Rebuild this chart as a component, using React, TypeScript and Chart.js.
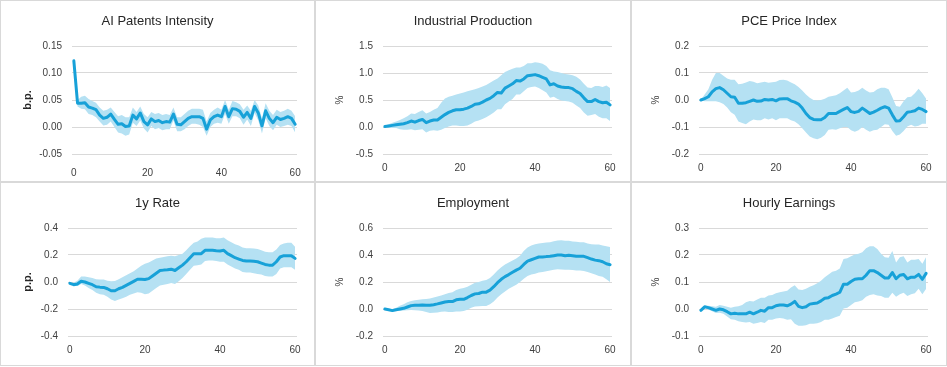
import React, { useEffect, useRef } from "react";
import { Chart, registerables } from "chart.js";
Chart.register(...registerables);

const horizons = Array.from({ length: 61 }, (_, i) => String(i));
const xTickLabels = ["0", "20", "40", "60"];

const aiLine = [0.1225,0.044,0.044,0.045,0.037,0.035,0.032,0.022,0.016,0.018,0.024,0.014,0.005,0.006,0.001,0.002,0.022,0.015,0.026,0.010,0.004,0.015,0.010,0.012,0.008,0.010,0.009,0.024,0.005,0.004,0.010,0.016,0.019,0.019,0.019,0.016,-0.004,0.013,0.019,0.022,0.019,0.038,0.019,0.034,0.033,0.029,0.018,0.027,0.016,0.038,0.026,0.002,0.030,0.016,0.008,0.018,0.014,0.016,0.019,0.016,0.005];
const aiUpper = [0.123,0.050,0.056,0.058,0.052,0.048,0.045,0.036,0.030,0.032,0.036,0.028,0.020,0.022,0.018,0.018,0.036,0.028,0.038,0.024,0.018,0.028,0.024,0.026,0.022,0.024,0.022,0.036,0.018,0.018,0.024,0.030,0.034,0.034,0.034,0.032,0.010,0.026,0.032,0.036,0.032,0.050,0.032,0.048,0.046,0.042,0.032,0.040,0.030,0.050,0.040,0.016,0.044,0.030,0.022,0.032,0.028,0.030,0.034,0.030,0.020];
const aiLower = [0.122,0.038,0.034,0.033,0.024,0.022,0.018,0.010,0.003,0.004,0.010,0.000,-0.010,-0.012,-0.016,-0.014,0.008,0.002,0.012,-0.003,-0.010,0.002,-0.004,-0.002,-0.006,-0.004,-0.004,0.012,-0.008,-0.008,-0.004,0.002,0.006,0.006,0.004,0.000,-0.016,0.000,0.006,0.008,0.006,0.024,0.006,0.020,0.020,0.016,0.004,0.014,0.002,0.026,0.012,-0.012,0.016,0.002,-0.006,0.004,0.000,0.002,0.004,0.002,-0.010];

const ipLine = [0.01,0.02,0.03,0.04,0.05,0.06,0.08,0.11,0.09,0.12,0.14,0.08,0.11,0.13,0.13,0.18,0.23,0.27,0.30,0.32,0.32,0.33,0.35,0.38,0.42,0.43,0.46,0.50,0.53,0.58,0.64,0.63,0.72,0.76,0.80,0.86,0.85,0.89,0.95,0.96,0.97,0.95,0.92,0.89,0.78,0.80,0.76,0.74,0.73,0.73,0.71,0.66,0.62,0.54,0.47,0.47,0.51,0.47,0.45,0.46,0.41];
const ipUpper = [0.02,0.05,0.08,0.10,0.13,0.16,0.20,0.25,0.24,0.28,0.31,0.25,0.28,0.32,0.35,0.45,0.53,0.56,0.58,0.60,0.62,0.64,0.66,0.68,0.70,0.72,0.75,0.78,0.82,0.86,0.90,0.96,1.02,1.05,1.08,1.10,1.10,1.13,1.18,1.18,1.20,1.19,1.17,1.13,1.05,1.03,1.02,1.00,0.98,0.97,0.96,0.93,0.88,0.80,0.73,0.72,0.76,0.76,0.74,0.77,0.72];
const ipLower = [0.00,-0.01,-0.02,-0.02,-0.04,-0.05,-0.05,-0.04,-0.06,-0.05,-0.04,-0.10,-0.07,-0.06,-0.07,-0.05,-0.02,0.01,0.03,0.03,0.02,0.02,0.03,0.06,0.10,0.12,0.15,0.18,0.22,0.27,0.33,0.33,0.42,0.47,0.52,0.60,0.60,0.66,0.72,0.74,0.75,0.72,0.68,0.64,0.54,0.56,0.52,0.49,0.48,0.47,0.45,0.40,0.35,0.27,0.21,0.22,0.24,0.19,0.16,0.16,0.11];

const pceLine = [0.000,0.005,0.012,0.030,0.042,0.046,0.038,0.025,0.012,0.010,-0.012,-0.012,-0.010,-0.005,0.000,-0.005,-0.004,0.002,0.000,0.002,-0.003,0.004,0.005,0.005,-0.003,-0.008,-0.015,-0.030,-0.050,-0.065,-0.072,-0.073,-0.073,-0.065,-0.050,-0.050,-0.050,-0.042,-0.035,-0.028,-0.043,-0.046,-0.042,-0.030,-0.040,-0.050,-0.045,-0.038,-0.030,-0.025,-0.030,-0.055,-0.078,-0.077,-0.062,-0.045,-0.043,-0.040,-0.030,-0.035,-0.043];
const pceUpper = [0.000,0.020,0.040,0.075,0.100,0.100,0.090,0.080,0.075,0.075,0.058,0.060,0.065,0.070,0.068,0.062,0.065,0.068,0.064,0.066,0.068,0.074,0.075,0.072,0.065,0.058,0.048,0.035,0.020,0.008,0.000,-0.002,0.000,0.005,0.012,0.015,0.018,0.025,0.035,0.045,0.028,0.030,0.035,0.045,0.035,0.028,0.030,0.040,0.045,0.045,0.040,0.010,-0.022,-0.025,-0.005,0.010,0.012,0.025,0.042,0.025,0.005];
const pceLower = [0.000,-0.005,-0.005,-0.005,-0.005,-0.008,-0.015,-0.028,-0.045,-0.055,-0.080,-0.085,-0.090,-0.080,-0.072,-0.075,-0.075,-0.068,-0.072,-0.068,-0.075,-0.068,-0.068,-0.068,-0.075,-0.080,-0.090,-0.105,-0.120,-0.135,-0.142,-0.145,-0.140,-0.130,-0.110,-0.108,-0.110,-0.105,-0.100,-0.100,-0.112,-0.118,-0.112,-0.100,-0.110,-0.118,-0.112,-0.110,-0.100,-0.090,-0.092,-0.115,-0.132,-0.128,-0.115,-0.098,-0.092,-0.098,-0.095,-0.088,-0.088];

const rateLine = [-0.010,-0.020,-0.015,0.005,0.000,-0.010,-0.020,-0.035,-0.038,-0.040,-0.050,-0.065,-0.065,-0.050,-0.040,-0.025,-0.010,0.005,0.020,0.020,0.018,0.025,0.045,0.065,0.085,0.088,0.090,0.095,0.085,0.105,0.125,0.150,0.180,0.210,0.210,0.210,0.235,0.235,0.235,0.232,0.230,0.235,0.210,0.195,0.180,0.170,0.160,0.155,0.155,0.153,0.150,0.140,0.130,0.125,0.125,0.150,0.185,0.195,0.195,0.195,0.175];
const rateUpper = [-0.005,-0.005,0.010,0.040,0.040,0.035,0.030,0.020,0.018,0.018,0.010,0.005,0.008,0.020,0.035,0.050,0.065,0.080,0.100,0.120,0.135,0.145,0.160,0.175,0.180,0.185,0.190,0.195,0.190,0.200,0.210,0.235,0.265,0.290,0.300,0.320,0.330,0.330,0.330,0.325,0.325,0.330,0.310,0.295,0.280,0.270,0.255,0.250,0.250,0.248,0.245,0.235,0.225,0.220,0.220,0.240,0.275,0.285,0.290,0.290,0.260];
const rateLower = [-0.010,-0.025,-0.030,-0.015,-0.025,-0.045,-0.060,-0.080,-0.090,-0.095,-0.110,-0.130,-0.140,-0.130,-0.120,-0.110,-0.095,-0.085,-0.075,-0.080,-0.090,-0.085,-0.065,-0.045,-0.025,-0.020,-0.015,-0.008,-0.015,0.005,0.030,0.060,0.090,0.120,0.125,0.130,0.155,0.160,0.160,0.155,0.150,0.150,0.130,0.115,0.100,0.090,0.075,0.070,0.070,0.065,0.060,0.055,0.045,0.040,0.040,0.060,0.100,0.110,0.110,0.110,0.090];

const empLine = [0.000,-0.005,-0.012,-0.005,0.000,0.005,0.015,0.025,0.028,0.028,0.030,0.028,0.028,0.032,0.038,0.045,0.052,0.055,0.055,0.068,0.072,0.072,0.085,0.100,0.112,0.115,0.125,0.125,0.140,0.165,0.195,0.220,0.240,0.255,0.272,0.288,0.302,0.330,0.355,0.365,0.375,0.385,0.385,0.388,0.390,0.395,0.400,0.400,0.395,0.398,0.395,0.390,0.390,0.390,0.380,0.370,0.362,0.358,0.350,0.335,0.328];
const empUpper = [0.000,0.002,0.000,0.010,0.025,0.035,0.050,0.060,0.065,0.068,0.072,0.075,0.078,0.085,0.092,0.100,0.110,0.118,0.125,0.140,0.150,0.155,0.165,0.180,0.195,0.200,0.210,0.215,0.230,0.255,0.285,0.310,0.330,0.345,0.360,0.375,0.395,0.430,0.455,0.470,0.480,0.485,0.488,0.492,0.495,0.502,0.508,0.510,0.505,0.505,0.500,0.498,0.495,0.495,0.485,0.480,0.478,0.478,0.470,0.465,0.460];
const empLower = [0.000,-0.008,-0.015,-0.015,-0.015,-0.012,-0.010,-0.008,-0.010,-0.012,-0.015,-0.022,-0.030,-0.028,-0.025,-0.020,-0.018,-0.022,-0.022,-0.018,-0.018,-0.015,-0.005,0.010,0.018,0.020,0.022,0.022,0.035,0.055,0.085,0.110,0.130,0.150,0.165,0.180,0.200,0.225,0.245,0.255,0.262,0.270,0.275,0.280,0.285,0.290,0.295,0.292,0.290,0.290,0.288,0.285,0.285,0.282,0.275,0.265,0.255,0.245,0.238,0.220,0.200];

const ahLine = [-0.005,0.008,0.005,0.000,-0.005,0.000,-0.003,-0.010,-0.018,-0.016,-0.018,-0.018,-0.018,-0.012,-0.018,-0.012,-0.005,-0.008,0.005,0.005,0.012,0.015,0.015,0.012,0.018,0.028,0.010,0.005,0.008,0.018,0.020,0.022,0.030,0.040,0.042,0.050,0.055,0.062,0.092,0.092,0.102,0.110,0.112,0.112,0.125,0.142,0.142,0.135,0.125,0.115,0.115,0.135,0.112,0.125,0.128,0.112,0.118,0.118,0.128,0.110,0.132];
const ahUpper = [-0.002,0.012,0.012,0.010,0.008,0.015,0.012,0.008,0.005,0.008,0.010,0.015,0.025,0.030,0.028,0.035,0.042,0.042,0.050,0.052,0.058,0.062,0.065,0.068,0.080,0.088,0.072,0.070,0.075,0.082,0.088,0.095,0.105,0.118,0.128,0.138,0.142,0.150,0.185,0.188,0.195,0.202,0.205,0.210,0.225,0.232,0.232,0.222,0.205,0.192,0.190,0.215,0.172,0.192,0.195,0.172,0.182,0.182,0.185,0.168,0.192];
const ahLower = [-0.006,0.004,-0.002,-0.008,-0.015,-0.014,-0.018,-0.028,-0.038,-0.040,-0.045,-0.048,-0.050,-0.048,-0.055,-0.052,-0.048,-0.052,-0.040,-0.040,-0.035,-0.033,-0.035,-0.040,-0.038,-0.055,-0.062,-0.062,-0.060,-0.055,-0.055,-0.053,-0.048,-0.040,-0.040,-0.035,-0.030,-0.025,0.002,0.005,0.015,0.025,0.028,0.032,0.045,0.052,0.055,0.050,0.048,0.042,0.042,0.060,0.045,0.055,0.060,0.048,0.055,0.058,0.075,0.055,0.075];

const LINE_COLOR = "#17a1d8";
const BAND_COLOR = "#b5e1f3";
const GRID_COLOR = "#d9d9d9";
const TEXT_COLOR = "#404040";
const TITLE_COLOR = "#262626";
const FONT = "'Liberation Sans', Arial, sans-serif";

type Panel = {
  title: string; unit: string; unitBold: boolean;
  min: number; max: number; step: number; dec: number;
  line: number[]; upper: number[]; lower: number[];
  left: number; xPad: number; unitPad: number;
};

const panels: Panel[] = [
  { title: "AI Patents Intensity", unit: "b.p.", unitBold: true, min: -0.05, max: 0.15, step: 0.05, dec: 2, line: aiLine, upper: aiUpper, lower: aiLower, left: 71, xPad: 13, unitPad: 20 },
  { title: "Industrial Production", unit: "%", unitBold: false, min: -0.5, max: 1.5, step: 0.5, dec: 1, line: ipLine, upper: ipUpper, lower: ipLower, left: 67, xPad: 8, unitPad: 18 },
  { title: "PCE Price Index", unit: "%", unitBold: false, min: -0.2, max: 0.2, step: 0.1, dec: 1, line: pceLine, upper: pceUpper, lower: pceLower, left: 67, xPad: 8, unitPad: 18 },
  { title: "1y Rate", unit: "p.p.", unitBold: true, min: -0.4, max: 0.4, step: 0.2, dec: 1, line: rateLine, upper: rateUpper, lower: rateLower, left: 67, xPad: 8, unitPad: 20 },
  { title: "Employment", unit: "%", unitBold: false, min: -0.2, max: 0.6, step: 0.2, dec: 1, line: empLine, upper: empUpper, lower: empLower, left: 67, xPad: 8, unitPad: 18 },
  { title: "Hourly Earnings", unit: "%", unitBold: false, min: -0.1, max: 0.3, step: 0.1, dec: 1, line: ahLine, upper: ahUpper, lower: ahLower, left: 67, xPad: 8, unitPad: 18 },
];

const colLefts = [0, 315, 631];
const colWidths = [315, 316, 316];
const rowTops = [0, 182];
const rowHeights = [182, 184];

function PanelChart({ p, w, h }: { p: Panel; w: number; h: number }) {
  const ref = useRef<HTMLCanvasElement>(null);
  useEffect(() => {
    const chart = new Chart(ref.current as HTMLCanvasElement, {
      type: "line",
      data: {
        labels: horizons,
        datasets: [
          { data: p.line, borderColor: LINE_COLOR, borderWidth: 3, pointRadius: 0, fill: false, tension: 0, borderJoinStyle: "round", borderCapStyle: "round" } as any,
          { data: p.upper, borderColor: "rgba(0,0,0,0)", borderWidth: 0, backgroundColor: BAND_COLOR, pointRadius: 0, fill: "+1", tension: 0 } as any,
          { data: p.lower, borderColor: "rgba(0,0,0,0)", borderWidth: 0, pointRadius: 0, fill: false, tension: 0 } as any,
        ],
      },
      options: {
        animation: false,
        responsive: false,
        maintainAspectRatio: false,
        events: [],
        layout: { padding: 0 },
        plugins: {
          legend: { display: false },
          tooltip: { enabled: false },
          title: {
            display: true,
            text: p.title,
            color: TITLE_COLOR,
            font: { family: FONT, size: 13, weight: "normal", lineHeight: 1.2 },
            padding: { top: 12.2, bottom: 17.2 },
          },
        },
        scales: {
          x: {
            type: "category",
            offset: true,
            grid: { display: false, drawTicks: false },
            border: { display: false },
            ticks: {
              autoSkip: false,
              maxRotation: 0,
              minRotation: 0,
              padding: p.xPad,
              color: TEXT_COLOR,
              font: { family: FONT, size: 10 },
              callback: (_v: any, i: number) => (xTickLabels.includes(horizons[i]) ? horizons[i] : ""),
            },
            afterFit: (s: any) => { s.height = h - 153; },
          },
          y: {
            min: p.min,
            max: p.max,
            grid: { color: GRID_COLOR, lineWidth: 1, drawTicks: false },
            border: { display: false },
            ticks: {
              stepSize: p.step,
              padding: 10,
              color: TEXT_COLOR,
              font: { family: FONT, size: 10 },
              callback: (v: any) => Number(v).toFixed(p.dec),
            },
            title: {
              display: true,
              text: p.unit,
              color: p.unitBold ? TITLE_COLOR : TEXT_COLOR,
              font: { family: FONT, size: p.unitBold ? 11 : 10, weight: p.unitBold ? "bold" : "normal", lineHeight: 1.2 },
              padding: { top: p.unitPad, bottom: 0 },
            },
            afterFit: (s: any) => { s.width = p.left; },
          },
          yRight: {
            position: "right",
            display: true,
            grid: { display: false, drawTicks: false },
            border: { display: false },
            ticks: { display: false },
            afterFit: (s: any) => { s.width = w - 296; },
          },
        },
      } as any,
    });
    return () => chart.destroy();
  }, []);
  return <canvas ref={ref} width={w} height={h} style={{ display: "block", width: w, height: h }} />;
}

export default function App() {
  return (
    <div style={{ position: "absolute", left: 0, top: 0, width: 947, height: 367, background: "#fff" }}>
      {panels.map((p, i) => {
        const c = i % 3;
        const r = Math.floor(i / 3);
        const w = colWidths[c];
        const h = rowHeights[r];
        return (
          <div
            key={i}
            style={{
              position: "absolute",
              left: colLefts[c],
              top: rowTops[r],
              width: w,
              height: h,
              boxSizing: "border-box",
              border: "1px solid #d9d9d9",
            }}
          >
            <PanelChart p={p} w={w - 2} h={h - 2} />
          </div>
        );
      })}
    </div>
  );
}
